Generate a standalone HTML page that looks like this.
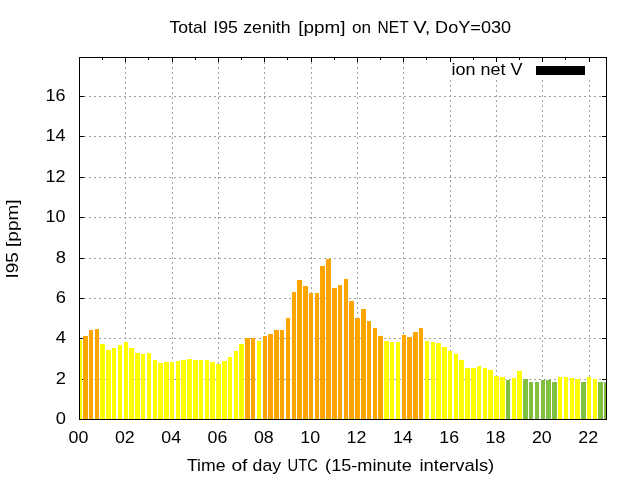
<!DOCTYPE html>
<html><head><meta charset="utf-8"><style>
html,body{margin:0;padding:0;background:#fff;width:640px;height:480px;overflow:hidden}
svg{display:block;will-change:transform}
text{font-family:"Liberation Sans",sans-serif;font-size:16px;fill:#000}
</style></head><body>
<svg width="640" height="480" viewBox="0 0 640 480">
<rect x="0" y="0" width="640" height="480" fill="#fff"/>
<g fill="#a0a0a0" shape-rendering="crispEdges">
<rect x="84" y="379" width="2" height="1"/>
<rect x="89" y="379" width="2" height="1"/>
<rect x="94" y="379" width="2" height="1"/>
<rect x="99" y="379" width="2" height="1"/>
<rect x="104" y="379" width="2" height="1"/>
<rect x="109" y="379" width="2" height="1"/>
<rect x="114" y="379" width="2" height="1"/>
<rect x="119" y="379" width="2" height="1"/>
<rect x="124" y="379" width="2" height="1"/>
<rect x="129" y="379" width="2" height="1"/>
<rect x="134" y="379" width="2" height="1"/>
<rect x="139" y="379" width="2" height="1"/>
<rect x="144" y="379" width="2" height="1"/>
<rect x="149" y="379" width="2" height="1"/>
<rect x="154" y="379" width="2" height="1"/>
<rect x="159" y="379" width="2" height="1"/>
<rect x="164" y="379" width="2" height="1"/>
<rect x="169" y="379" width="2" height="1"/>
<rect x="174" y="379" width="2" height="1"/>
<rect x="179" y="379" width="2" height="1"/>
<rect x="184" y="379" width="2" height="1"/>
<rect x="189" y="379" width="2" height="1"/>
<rect x="194" y="379" width="2" height="1"/>
<rect x="199" y="379" width="2" height="1"/>
<rect x="204" y="379" width="2" height="1"/>
<rect x="209" y="379" width="2" height="1"/>
<rect x="214" y="379" width="2" height="1"/>
<rect x="219" y="379" width="2" height="1"/>
<rect x="224" y="379" width="2" height="1"/>
<rect x="229" y="379" width="2" height="1"/>
<rect x="234" y="379" width="2" height="1"/>
<rect x="239" y="379" width="2" height="1"/>
<rect x="244" y="379" width="2" height="1"/>
<rect x="249" y="379" width="2" height="1"/>
<rect x="254" y="379" width="2" height="1"/>
<rect x="259" y="379" width="2" height="1"/>
<rect x="264" y="379" width="2" height="1"/>
<rect x="269" y="379" width="2" height="1"/>
<rect x="274" y="379" width="2" height="1"/>
<rect x="279" y="379" width="2" height="1"/>
<rect x="284" y="379" width="2" height="1"/>
<rect x="289" y="379" width="2" height="1"/>
<rect x="294" y="379" width="2" height="1"/>
<rect x="299" y="379" width="2" height="1"/>
<rect x="304" y="379" width="2" height="1"/>
<rect x="309" y="379" width="2" height="1"/>
<rect x="314" y="379" width="2" height="1"/>
<rect x="319" y="379" width="2" height="1"/>
<rect x="324" y="379" width="2" height="1"/>
<rect x="329" y="379" width="2" height="1"/>
<rect x="334" y="379" width="2" height="1"/>
<rect x="339" y="379" width="2" height="1"/>
<rect x="344" y="379" width="2" height="1"/>
<rect x="349" y="379" width="2" height="1"/>
<rect x="354" y="379" width="2" height="1"/>
<rect x="359" y="379" width="2" height="1"/>
<rect x="364" y="379" width="2" height="1"/>
<rect x="369" y="379" width="2" height="1"/>
<rect x="374" y="379" width="2" height="1"/>
<rect x="379" y="379" width="2" height="1"/>
<rect x="384" y="379" width="2" height="1"/>
<rect x="389" y="379" width="2" height="1"/>
<rect x="394" y="379" width="2" height="1"/>
<rect x="399" y="379" width="2" height="1"/>
<rect x="404" y="379" width="2" height="1"/>
<rect x="409" y="379" width="2" height="1"/>
<rect x="414" y="379" width="2" height="1"/>
<rect x="419" y="379" width="2" height="1"/>
<rect x="424" y="379" width="2" height="1"/>
<rect x="429" y="379" width="2" height="1"/>
<rect x="434" y="379" width="2" height="1"/>
<rect x="439" y="379" width="2" height="1"/>
<rect x="444" y="379" width="2" height="1"/>
<rect x="449" y="379" width="2" height="1"/>
<rect x="454" y="379" width="2" height="1"/>
<rect x="459" y="379" width="2" height="1"/>
<rect x="464" y="379" width="2" height="1"/>
<rect x="469" y="379" width="2" height="1"/>
<rect x="474" y="379" width="2" height="1"/>
<rect x="479" y="379" width="2" height="1"/>
<rect x="484" y="379" width="2" height="1"/>
<rect x="489" y="379" width="2" height="1"/>
<rect x="494" y="379" width="2" height="1"/>
<rect x="499" y="379" width="2" height="1"/>
<rect x="504" y="379" width="2" height="1"/>
<rect x="509" y="379" width="2" height="1"/>
<rect x="514" y="379" width="2" height="1"/>
<rect x="519" y="379" width="2" height="1"/>
<rect x="524" y="379" width="2" height="1"/>
<rect x="529" y="379" width="2" height="1"/>
<rect x="534" y="379" width="2" height="1"/>
<rect x="539" y="379" width="2" height="1"/>
<rect x="544" y="379" width="2" height="1"/>
<rect x="549" y="379" width="2" height="1"/>
<rect x="554" y="379" width="2" height="1"/>
<rect x="559" y="379" width="2" height="1"/>
<rect x="564" y="379" width="2" height="1"/>
<rect x="569" y="379" width="2" height="1"/>
<rect x="574" y="379" width="2" height="1"/>
<rect x="579" y="379" width="2" height="1"/>
<rect x="584" y="379" width="2" height="1"/>
<rect x="589" y="379" width="2" height="1"/>
<rect x="594" y="379" width="2" height="1"/>
<rect x="599" y="379" width="2" height="1"/>
<rect x="84" y="338" width="2" height="1"/>
<rect x="89" y="338" width="2" height="1"/>
<rect x="94" y="338" width="2" height="1"/>
<rect x="99" y="338" width="2" height="1"/>
<rect x="104" y="338" width="2" height="1"/>
<rect x="109" y="338" width="2" height="1"/>
<rect x="114" y="338" width="2" height="1"/>
<rect x="119" y="338" width="2" height="1"/>
<rect x="124" y="338" width="2" height="1"/>
<rect x="129" y="338" width="2" height="1"/>
<rect x="134" y="338" width="2" height="1"/>
<rect x="139" y="338" width="2" height="1"/>
<rect x="144" y="338" width="2" height="1"/>
<rect x="149" y="338" width="2" height="1"/>
<rect x="154" y="338" width="2" height="1"/>
<rect x="159" y="338" width="2" height="1"/>
<rect x="164" y="338" width="2" height="1"/>
<rect x="169" y="338" width="2" height="1"/>
<rect x="174" y="338" width="2" height="1"/>
<rect x="179" y="338" width="2" height="1"/>
<rect x="184" y="338" width="2" height="1"/>
<rect x="189" y="338" width="2" height="1"/>
<rect x="194" y="338" width="2" height="1"/>
<rect x="199" y="338" width="2" height="1"/>
<rect x="204" y="338" width="2" height="1"/>
<rect x="209" y="338" width="2" height="1"/>
<rect x="214" y="338" width="2" height="1"/>
<rect x="219" y="338" width="2" height="1"/>
<rect x="224" y="338" width="2" height="1"/>
<rect x="229" y="338" width="2" height="1"/>
<rect x="234" y="338" width="2" height="1"/>
<rect x="239" y="338" width="2" height="1"/>
<rect x="244" y="338" width="2" height="1"/>
<rect x="249" y="338" width="2" height="1"/>
<rect x="254" y="338" width="2" height="1"/>
<rect x="259" y="338" width="2" height="1"/>
<rect x="264" y="338" width="2" height="1"/>
<rect x="269" y="338" width="2" height="1"/>
<rect x="274" y="338" width="2" height="1"/>
<rect x="279" y="338" width="2" height="1"/>
<rect x="284" y="338" width="2" height="1"/>
<rect x="289" y="338" width="2" height="1"/>
<rect x="294" y="338" width="2" height="1"/>
<rect x="299" y="338" width="2" height="1"/>
<rect x="304" y="338" width="2" height="1"/>
<rect x="309" y="338" width="2" height="1"/>
<rect x="314" y="338" width="2" height="1"/>
<rect x="319" y="338" width="2" height="1"/>
<rect x="324" y="338" width="2" height="1"/>
<rect x="329" y="338" width="2" height="1"/>
<rect x="334" y="338" width="2" height="1"/>
<rect x="339" y="338" width="2" height="1"/>
<rect x="344" y="338" width="2" height="1"/>
<rect x="349" y="338" width="2" height="1"/>
<rect x="354" y="338" width="2" height="1"/>
<rect x="359" y="338" width="2" height="1"/>
<rect x="364" y="338" width="2" height="1"/>
<rect x="369" y="338" width="2" height="1"/>
<rect x="374" y="338" width="2" height="1"/>
<rect x="379" y="338" width="2" height="1"/>
<rect x="384" y="338" width="2" height="1"/>
<rect x="389" y="338" width="2" height="1"/>
<rect x="394" y="338" width="2" height="1"/>
<rect x="399" y="338" width="2" height="1"/>
<rect x="404" y="338" width="2" height="1"/>
<rect x="409" y="338" width="2" height="1"/>
<rect x="414" y="338" width="2" height="1"/>
<rect x="419" y="338" width="2" height="1"/>
<rect x="424" y="338" width="2" height="1"/>
<rect x="429" y="338" width="2" height="1"/>
<rect x="434" y="338" width="2" height="1"/>
<rect x="439" y="338" width="2" height="1"/>
<rect x="444" y="338" width="2" height="1"/>
<rect x="449" y="338" width="2" height="1"/>
<rect x="454" y="338" width="2" height="1"/>
<rect x="459" y="338" width="2" height="1"/>
<rect x="464" y="338" width="2" height="1"/>
<rect x="469" y="338" width="2" height="1"/>
<rect x="474" y="338" width="2" height="1"/>
<rect x="479" y="338" width="2" height="1"/>
<rect x="484" y="338" width="2" height="1"/>
<rect x="489" y="338" width="2" height="1"/>
<rect x="494" y="338" width="2" height="1"/>
<rect x="499" y="338" width="2" height="1"/>
<rect x="504" y="338" width="2" height="1"/>
<rect x="509" y="338" width="2" height="1"/>
<rect x="514" y="338" width="2" height="1"/>
<rect x="519" y="338" width="2" height="1"/>
<rect x="524" y="338" width="2" height="1"/>
<rect x="529" y="338" width="2" height="1"/>
<rect x="534" y="338" width="2" height="1"/>
<rect x="539" y="338" width="2" height="1"/>
<rect x="544" y="338" width="2" height="1"/>
<rect x="549" y="338" width="2" height="1"/>
<rect x="554" y="338" width="2" height="1"/>
<rect x="559" y="338" width="2" height="1"/>
<rect x="564" y="338" width="2" height="1"/>
<rect x="569" y="338" width="2" height="1"/>
<rect x="574" y="338" width="2" height="1"/>
<rect x="579" y="338" width="2" height="1"/>
<rect x="584" y="338" width="2" height="1"/>
<rect x="589" y="338" width="2" height="1"/>
<rect x="594" y="338" width="2" height="1"/>
<rect x="599" y="338" width="2" height="1"/>
<rect x="84" y="298" width="2" height="1"/>
<rect x="89" y="298" width="2" height="1"/>
<rect x="94" y="298" width="2" height="1"/>
<rect x="99" y="298" width="2" height="1"/>
<rect x="104" y="298" width="2" height="1"/>
<rect x="109" y="298" width="2" height="1"/>
<rect x="114" y="298" width="2" height="1"/>
<rect x="119" y="298" width="2" height="1"/>
<rect x="124" y="298" width="2" height="1"/>
<rect x="129" y="298" width="2" height="1"/>
<rect x="134" y="298" width="2" height="1"/>
<rect x="139" y="298" width="2" height="1"/>
<rect x="144" y="298" width="2" height="1"/>
<rect x="149" y="298" width="2" height="1"/>
<rect x="154" y="298" width="2" height="1"/>
<rect x="159" y="298" width="2" height="1"/>
<rect x="164" y="298" width="2" height="1"/>
<rect x="169" y="298" width="2" height="1"/>
<rect x="174" y="298" width="2" height="1"/>
<rect x="179" y="298" width="2" height="1"/>
<rect x="184" y="298" width="2" height="1"/>
<rect x="189" y="298" width="2" height="1"/>
<rect x="194" y="298" width="2" height="1"/>
<rect x="199" y="298" width="2" height="1"/>
<rect x="204" y="298" width="2" height="1"/>
<rect x="209" y="298" width="2" height="1"/>
<rect x="214" y="298" width="2" height="1"/>
<rect x="219" y="298" width="2" height="1"/>
<rect x="224" y="298" width="2" height="1"/>
<rect x="229" y="298" width="2" height="1"/>
<rect x="234" y="298" width="2" height="1"/>
<rect x="239" y="298" width="2" height="1"/>
<rect x="244" y="298" width="2" height="1"/>
<rect x="249" y="298" width="2" height="1"/>
<rect x="254" y="298" width="2" height="1"/>
<rect x="259" y="298" width="2" height="1"/>
<rect x="264" y="298" width="2" height="1"/>
<rect x="269" y="298" width="2" height="1"/>
<rect x="274" y="298" width="2" height="1"/>
<rect x="279" y="298" width="2" height="1"/>
<rect x="284" y="298" width="2" height="1"/>
<rect x="289" y="298" width="2" height="1"/>
<rect x="294" y="298" width="2" height="1"/>
<rect x="299" y="298" width="2" height="1"/>
<rect x="304" y="298" width="2" height="1"/>
<rect x="309" y="298" width="2" height="1"/>
<rect x="314" y="298" width="2" height="1"/>
<rect x="319" y="298" width="2" height="1"/>
<rect x="324" y="298" width="2" height="1"/>
<rect x="329" y="298" width="2" height="1"/>
<rect x="334" y="298" width="2" height="1"/>
<rect x="339" y="298" width="2" height="1"/>
<rect x="344" y="298" width="2" height="1"/>
<rect x="349" y="298" width="2" height="1"/>
<rect x="354" y="298" width="2" height="1"/>
<rect x="359" y="298" width="2" height="1"/>
<rect x="364" y="298" width="2" height="1"/>
<rect x="369" y="298" width="2" height="1"/>
<rect x="374" y="298" width="2" height="1"/>
<rect x="379" y="298" width="2" height="1"/>
<rect x="384" y="298" width="2" height="1"/>
<rect x="389" y="298" width="2" height="1"/>
<rect x="394" y="298" width="2" height="1"/>
<rect x="399" y="298" width="2" height="1"/>
<rect x="404" y="298" width="2" height="1"/>
<rect x="409" y="298" width="2" height="1"/>
<rect x="414" y="298" width="2" height="1"/>
<rect x="419" y="298" width="2" height="1"/>
<rect x="424" y="298" width="2" height="1"/>
<rect x="429" y="298" width="2" height="1"/>
<rect x="434" y="298" width="2" height="1"/>
<rect x="439" y="298" width="2" height="1"/>
<rect x="444" y="298" width="2" height="1"/>
<rect x="449" y="298" width="2" height="1"/>
<rect x="454" y="298" width="2" height="1"/>
<rect x="459" y="298" width="2" height="1"/>
<rect x="464" y="298" width="2" height="1"/>
<rect x="469" y="298" width="2" height="1"/>
<rect x="474" y="298" width="2" height="1"/>
<rect x="479" y="298" width="2" height="1"/>
<rect x="484" y="298" width="2" height="1"/>
<rect x="489" y="298" width="2" height="1"/>
<rect x="494" y="298" width="2" height="1"/>
<rect x="499" y="298" width="2" height="1"/>
<rect x="504" y="298" width="2" height="1"/>
<rect x="509" y="298" width="2" height="1"/>
<rect x="514" y="298" width="2" height="1"/>
<rect x="519" y="298" width="2" height="1"/>
<rect x="524" y="298" width="2" height="1"/>
<rect x="529" y="298" width="2" height="1"/>
<rect x="534" y="298" width="2" height="1"/>
<rect x="539" y="298" width="2" height="1"/>
<rect x="544" y="298" width="2" height="1"/>
<rect x="549" y="298" width="2" height="1"/>
<rect x="554" y="298" width="2" height="1"/>
<rect x="559" y="298" width="2" height="1"/>
<rect x="564" y="298" width="2" height="1"/>
<rect x="569" y="298" width="2" height="1"/>
<rect x="574" y="298" width="2" height="1"/>
<rect x="579" y="298" width="2" height="1"/>
<rect x="584" y="298" width="2" height="1"/>
<rect x="589" y="298" width="2" height="1"/>
<rect x="594" y="298" width="2" height="1"/>
<rect x="599" y="298" width="2" height="1"/>
<rect x="84" y="258" width="2" height="1"/>
<rect x="89" y="258" width="2" height="1"/>
<rect x="94" y="258" width="2" height="1"/>
<rect x="99" y="258" width="2" height="1"/>
<rect x="104" y="258" width="2" height="1"/>
<rect x="109" y="258" width="2" height="1"/>
<rect x="114" y="258" width="2" height="1"/>
<rect x="119" y="258" width="2" height="1"/>
<rect x="124" y="258" width="2" height="1"/>
<rect x="129" y="258" width="2" height="1"/>
<rect x="134" y="258" width="2" height="1"/>
<rect x="139" y="258" width="2" height="1"/>
<rect x="144" y="258" width="2" height="1"/>
<rect x="149" y="258" width="2" height="1"/>
<rect x="154" y="258" width="2" height="1"/>
<rect x="159" y="258" width="2" height="1"/>
<rect x="164" y="258" width="2" height="1"/>
<rect x="169" y="258" width="2" height="1"/>
<rect x="174" y="258" width="2" height="1"/>
<rect x="179" y="258" width="2" height="1"/>
<rect x="184" y="258" width="2" height="1"/>
<rect x="189" y="258" width="2" height="1"/>
<rect x="194" y="258" width="2" height="1"/>
<rect x="199" y="258" width="2" height="1"/>
<rect x="204" y="258" width="2" height="1"/>
<rect x="209" y="258" width="2" height="1"/>
<rect x="214" y="258" width="2" height="1"/>
<rect x="219" y="258" width="2" height="1"/>
<rect x="224" y="258" width="2" height="1"/>
<rect x="229" y="258" width="2" height="1"/>
<rect x="234" y="258" width="2" height="1"/>
<rect x="239" y="258" width="2" height="1"/>
<rect x="244" y="258" width="2" height="1"/>
<rect x="249" y="258" width="2" height="1"/>
<rect x="254" y="258" width="2" height="1"/>
<rect x="259" y="258" width="2" height="1"/>
<rect x="264" y="258" width="2" height="1"/>
<rect x="269" y="258" width="2" height="1"/>
<rect x="274" y="258" width="2" height="1"/>
<rect x="279" y="258" width="2" height="1"/>
<rect x="284" y="258" width="2" height="1"/>
<rect x="289" y="258" width="2" height="1"/>
<rect x="294" y="258" width="2" height="1"/>
<rect x="299" y="258" width="2" height="1"/>
<rect x="304" y="258" width="2" height="1"/>
<rect x="309" y="258" width="2" height="1"/>
<rect x="314" y="258" width="2" height="1"/>
<rect x="319" y="258" width="2" height="1"/>
<rect x="324" y="258" width="2" height="1"/>
<rect x="329" y="258" width="2" height="1"/>
<rect x="334" y="258" width="2" height="1"/>
<rect x="339" y="258" width="2" height="1"/>
<rect x="344" y="258" width="2" height="1"/>
<rect x="349" y="258" width="2" height="1"/>
<rect x="354" y="258" width="2" height="1"/>
<rect x="359" y="258" width="2" height="1"/>
<rect x="364" y="258" width="2" height="1"/>
<rect x="369" y="258" width="2" height="1"/>
<rect x="374" y="258" width="2" height="1"/>
<rect x="379" y="258" width="2" height="1"/>
<rect x="384" y="258" width="2" height="1"/>
<rect x="389" y="258" width="2" height="1"/>
<rect x="394" y="258" width="2" height="1"/>
<rect x="399" y="258" width="2" height="1"/>
<rect x="404" y="258" width="2" height="1"/>
<rect x="409" y="258" width="2" height="1"/>
<rect x="414" y="258" width="2" height="1"/>
<rect x="419" y="258" width="2" height="1"/>
<rect x="424" y="258" width="2" height="1"/>
<rect x="429" y="258" width="2" height="1"/>
<rect x="434" y="258" width="2" height="1"/>
<rect x="439" y="258" width="2" height="1"/>
<rect x="444" y="258" width="2" height="1"/>
<rect x="449" y="258" width="2" height="1"/>
<rect x="454" y="258" width="2" height="1"/>
<rect x="459" y="258" width="2" height="1"/>
<rect x="464" y="258" width="2" height="1"/>
<rect x="469" y="258" width="2" height="1"/>
<rect x="474" y="258" width="2" height="1"/>
<rect x="479" y="258" width="2" height="1"/>
<rect x="484" y="258" width="2" height="1"/>
<rect x="489" y="258" width="2" height="1"/>
<rect x="494" y="258" width="2" height="1"/>
<rect x="499" y="258" width="2" height="1"/>
<rect x="504" y="258" width="2" height="1"/>
<rect x="509" y="258" width="2" height="1"/>
<rect x="514" y="258" width="2" height="1"/>
<rect x="519" y="258" width="2" height="1"/>
<rect x="524" y="258" width="2" height="1"/>
<rect x="529" y="258" width="2" height="1"/>
<rect x="534" y="258" width="2" height="1"/>
<rect x="539" y="258" width="2" height="1"/>
<rect x="544" y="258" width="2" height="1"/>
<rect x="549" y="258" width="2" height="1"/>
<rect x="554" y="258" width="2" height="1"/>
<rect x="559" y="258" width="2" height="1"/>
<rect x="564" y="258" width="2" height="1"/>
<rect x="569" y="258" width="2" height="1"/>
<rect x="574" y="258" width="2" height="1"/>
<rect x="579" y="258" width="2" height="1"/>
<rect x="584" y="258" width="2" height="1"/>
<rect x="589" y="258" width="2" height="1"/>
<rect x="594" y="258" width="2" height="1"/>
<rect x="599" y="258" width="2" height="1"/>
<rect x="84" y="217" width="2" height="1"/>
<rect x="89" y="217" width="2" height="1"/>
<rect x="94" y="217" width="2" height="1"/>
<rect x="99" y="217" width="2" height="1"/>
<rect x="104" y="217" width="2" height="1"/>
<rect x="109" y="217" width="2" height="1"/>
<rect x="114" y="217" width="2" height="1"/>
<rect x="119" y="217" width="2" height="1"/>
<rect x="124" y="217" width="2" height="1"/>
<rect x="129" y="217" width="2" height="1"/>
<rect x="134" y="217" width="2" height="1"/>
<rect x="139" y="217" width="2" height="1"/>
<rect x="144" y="217" width="2" height="1"/>
<rect x="149" y="217" width="2" height="1"/>
<rect x="154" y="217" width="2" height="1"/>
<rect x="159" y="217" width="2" height="1"/>
<rect x="164" y="217" width="2" height="1"/>
<rect x="169" y="217" width="2" height="1"/>
<rect x="174" y="217" width="2" height="1"/>
<rect x="179" y="217" width="2" height="1"/>
<rect x="184" y="217" width="2" height="1"/>
<rect x="189" y="217" width="2" height="1"/>
<rect x="194" y="217" width="2" height="1"/>
<rect x="199" y="217" width="2" height="1"/>
<rect x="204" y="217" width="2" height="1"/>
<rect x="209" y="217" width="2" height="1"/>
<rect x="214" y="217" width="2" height="1"/>
<rect x="219" y="217" width="2" height="1"/>
<rect x="224" y="217" width="2" height="1"/>
<rect x="229" y="217" width="2" height="1"/>
<rect x="234" y="217" width="2" height="1"/>
<rect x="239" y="217" width="2" height="1"/>
<rect x="244" y="217" width="2" height="1"/>
<rect x="249" y="217" width="2" height="1"/>
<rect x="254" y="217" width="2" height="1"/>
<rect x="259" y="217" width="2" height="1"/>
<rect x="264" y="217" width="2" height="1"/>
<rect x="269" y="217" width="2" height="1"/>
<rect x="274" y="217" width="2" height="1"/>
<rect x="279" y="217" width="2" height="1"/>
<rect x="284" y="217" width="2" height="1"/>
<rect x="289" y="217" width="2" height="1"/>
<rect x="294" y="217" width="2" height="1"/>
<rect x="299" y="217" width="2" height="1"/>
<rect x="304" y="217" width="2" height="1"/>
<rect x="309" y="217" width="2" height="1"/>
<rect x="314" y="217" width="2" height="1"/>
<rect x="319" y="217" width="2" height="1"/>
<rect x="324" y="217" width="2" height="1"/>
<rect x="329" y="217" width="2" height="1"/>
<rect x="334" y="217" width="2" height="1"/>
<rect x="339" y="217" width="2" height="1"/>
<rect x="344" y="217" width="2" height="1"/>
<rect x="349" y="217" width="2" height="1"/>
<rect x="354" y="217" width="2" height="1"/>
<rect x="359" y="217" width="2" height="1"/>
<rect x="364" y="217" width="2" height="1"/>
<rect x="369" y="217" width="2" height="1"/>
<rect x="374" y="217" width="2" height="1"/>
<rect x="379" y="217" width="2" height="1"/>
<rect x="384" y="217" width="2" height="1"/>
<rect x="389" y="217" width="2" height="1"/>
<rect x="394" y="217" width="2" height="1"/>
<rect x="399" y="217" width="2" height="1"/>
<rect x="404" y="217" width="2" height="1"/>
<rect x="409" y="217" width="2" height="1"/>
<rect x="414" y="217" width="2" height="1"/>
<rect x="419" y="217" width="2" height="1"/>
<rect x="424" y="217" width="2" height="1"/>
<rect x="429" y="217" width="2" height="1"/>
<rect x="434" y="217" width="2" height="1"/>
<rect x="439" y="217" width="2" height="1"/>
<rect x="444" y="217" width="2" height="1"/>
<rect x="449" y="217" width="2" height="1"/>
<rect x="454" y="217" width="2" height="1"/>
<rect x="459" y="217" width="2" height="1"/>
<rect x="464" y="217" width="2" height="1"/>
<rect x="469" y="217" width="2" height="1"/>
<rect x="474" y="217" width="2" height="1"/>
<rect x="479" y="217" width="2" height="1"/>
<rect x="484" y="217" width="2" height="1"/>
<rect x="489" y="217" width="2" height="1"/>
<rect x="494" y="217" width="2" height="1"/>
<rect x="499" y="217" width="2" height="1"/>
<rect x="504" y="217" width="2" height="1"/>
<rect x="509" y="217" width="2" height="1"/>
<rect x="514" y="217" width="2" height="1"/>
<rect x="519" y="217" width="2" height="1"/>
<rect x="524" y="217" width="2" height="1"/>
<rect x="529" y="217" width="2" height="1"/>
<rect x="534" y="217" width="2" height="1"/>
<rect x="539" y="217" width="2" height="1"/>
<rect x="544" y="217" width="2" height="1"/>
<rect x="549" y="217" width="2" height="1"/>
<rect x="554" y="217" width="2" height="1"/>
<rect x="559" y="217" width="2" height="1"/>
<rect x="564" y="217" width="2" height="1"/>
<rect x="569" y="217" width="2" height="1"/>
<rect x="574" y="217" width="2" height="1"/>
<rect x="579" y="217" width="2" height="1"/>
<rect x="584" y="217" width="2" height="1"/>
<rect x="589" y="217" width="2" height="1"/>
<rect x="594" y="217" width="2" height="1"/>
<rect x="599" y="217" width="2" height="1"/>
<rect x="84" y="177" width="2" height="1"/>
<rect x="89" y="177" width="2" height="1"/>
<rect x="94" y="177" width="2" height="1"/>
<rect x="99" y="177" width="2" height="1"/>
<rect x="104" y="177" width="2" height="1"/>
<rect x="109" y="177" width="2" height="1"/>
<rect x="114" y="177" width="2" height="1"/>
<rect x="119" y="177" width="2" height="1"/>
<rect x="124" y="177" width="2" height="1"/>
<rect x="129" y="177" width="2" height="1"/>
<rect x="134" y="177" width="2" height="1"/>
<rect x="139" y="177" width="2" height="1"/>
<rect x="144" y="177" width="2" height="1"/>
<rect x="149" y="177" width="2" height="1"/>
<rect x="154" y="177" width="2" height="1"/>
<rect x="159" y="177" width="2" height="1"/>
<rect x="164" y="177" width="2" height="1"/>
<rect x="169" y="177" width="2" height="1"/>
<rect x="174" y="177" width="2" height="1"/>
<rect x="179" y="177" width="2" height="1"/>
<rect x="184" y="177" width="2" height="1"/>
<rect x="189" y="177" width="2" height="1"/>
<rect x="194" y="177" width="2" height="1"/>
<rect x="199" y="177" width="2" height="1"/>
<rect x="204" y="177" width="2" height="1"/>
<rect x="209" y="177" width="2" height="1"/>
<rect x="214" y="177" width="2" height="1"/>
<rect x="219" y="177" width="2" height="1"/>
<rect x="224" y="177" width="2" height="1"/>
<rect x="229" y="177" width="2" height="1"/>
<rect x="234" y="177" width="2" height="1"/>
<rect x="239" y="177" width="2" height="1"/>
<rect x="244" y="177" width="2" height="1"/>
<rect x="249" y="177" width="2" height="1"/>
<rect x="254" y="177" width="2" height="1"/>
<rect x="259" y="177" width="2" height="1"/>
<rect x="264" y="177" width="2" height="1"/>
<rect x="269" y="177" width="2" height="1"/>
<rect x="274" y="177" width="2" height="1"/>
<rect x="279" y="177" width="2" height="1"/>
<rect x="284" y="177" width="2" height="1"/>
<rect x="289" y="177" width="2" height="1"/>
<rect x="294" y="177" width="2" height="1"/>
<rect x="299" y="177" width="2" height="1"/>
<rect x="304" y="177" width="2" height="1"/>
<rect x="309" y="177" width="2" height="1"/>
<rect x="314" y="177" width="2" height="1"/>
<rect x="319" y="177" width="2" height="1"/>
<rect x="324" y="177" width="2" height="1"/>
<rect x="329" y="177" width="2" height="1"/>
<rect x="334" y="177" width="2" height="1"/>
<rect x="339" y="177" width="2" height="1"/>
<rect x="344" y="177" width="2" height="1"/>
<rect x="349" y="177" width="2" height="1"/>
<rect x="354" y="177" width="2" height="1"/>
<rect x="359" y="177" width="2" height="1"/>
<rect x="364" y="177" width="2" height="1"/>
<rect x="369" y="177" width="2" height="1"/>
<rect x="374" y="177" width="2" height="1"/>
<rect x="379" y="177" width="2" height="1"/>
<rect x="384" y="177" width="2" height="1"/>
<rect x="389" y="177" width="2" height="1"/>
<rect x="394" y="177" width="2" height="1"/>
<rect x="399" y="177" width="2" height="1"/>
<rect x="404" y="177" width="2" height="1"/>
<rect x="409" y="177" width="2" height="1"/>
<rect x="414" y="177" width="2" height="1"/>
<rect x="419" y="177" width="2" height="1"/>
<rect x="424" y="177" width="2" height="1"/>
<rect x="429" y="177" width="2" height="1"/>
<rect x="434" y="177" width="2" height="1"/>
<rect x="439" y="177" width="2" height="1"/>
<rect x="444" y="177" width="2" height="1"/>
<rect x="449" y="177" width="2" height="1"/>
<rect x="454" y="177" width="2" height="1"/>
<rect x="459" y="177" width="2" height="1"/>
<rect x="464" y="177" width="2" height="1"/>
<rect x="469" y="177" width="2" height="1"/>
<rect x="474" y="177" width="2" height="1"/>
<rect x="479" y="177" width="2" height="1"/>
<rect x="484" y="177" width="2" height="1"/>
<rect x="489" y="177" width="2" height="1"/>
<rect x="494" y="177" width="2" height="1"/>
<rect x="499" y="177" width="2" height="1"/>
<rect x="504" y="177" width="2" height="1"/>
<rect x="509" y="177" width="2" height="1"/>
<rect x="514" y="177" width="2" height="1"/>
<rect x="519" y="177" width="2" height="1"/>
<rect x="524" y="177" width="2" height="1"/>
<rect x="529" y="177" width="2" height="1"/>
<rect x="534" y="177" width="2" height="1"/>
<rect x="539" y="177" width="2" height="1"/>
<rect x="544" y="177" width="2" height="1"/>
<rect x="549" y="177" width="2" height="1"/>
<rect x="554" y="177" width="2" height="1"/>
<rect x="559" y="177" width="2" height="1"/>
<rect x="564" y="177" width="2" height="1"/>
<rect x="569" y="177" width="2" height="1"/>
<rect x="574" y="177" width="2" height="1"/>
<rect x="579" y="177" width="2" height="1"/>
<rect x="584" y="177" width="2" height="1"/>
<rect x="589" y="177" width="2" height="1"/>
<rect x="594" y="177" width="2" height="1"/>
<rect x="599" y="177" width="2" height="1"/>
<rect x="84" y="136" width="2" height="1"/>
<rect x="89" y="136" width="2" height="1"/>
<rect x="94" y="136" width="2" height="1"/>
<rect x="99" y="136" width="2" height="1"/>
<rect x="104" y="136" width="2" height="1"/>
<rect x="109" y="136" width="2" height="1"/>
<rect x="114" y="136" width="2" height="1"/>
<rect x="119" y="136" width="2" height="1"/>
<rect x="124" y="136" width="2" height="1"/>
<rect x="129" y="136" width="2" height="1"/>
<rect x="134" y="136" width="2" height="1"/>
<rect x="139" y="136" width="2" height="1"/>
<rect x="144" y="136" width="2" height="1"/>
<rect x="149" y="136" width="2" height="1"/>
<rect x="154" y="136" width="2" height="1"/>
<rect x="159" y="136" width="2" height="1"/>
<rect x="164" y="136" width="2" height="1"/>
<rect x="169" y="136" width="2" height="1"/>
<rect x="174" y="136" width="2" height="1"/>
<rect x="179" y="136" width="2" height="1"/>
<rect x="184" y="136" width="2" height="1"/>
<rect x="189" y="136" width="2" height="1"/>
<rect x="194" y="136" width="2" height="1"/>
<rect x="199" y="136" width="2" height="1"/>
<rect x="204" y="136" width="2" height="1"/>
<rect x="209" y="136" width="2" height="1"/>
<rect x="214" y="136" width="2" height="1"/>
<rect x="219" y="136" width="2" height="1"/>
<rect x="224" y="136" width="2" height="1"/>
<rect x="229" y="136" width="2" height="1"/>
<rect x="234" y="136" width="2" height="1"/>
<rect x="239" y="136" width="2" height="1"/>
<rect x="244" y="136" width="2" height="1"/>
<rect x="249" y="136" width="2" height="1"/>
<rect x="254" y="136" width="2" height="1"/>
<rect x="259" y="136" width="2" height="1"/>
<rect x="264" y="136" width="2" height="1"/>
<rect x="269" y="136" width="2" height="1"/>
<rect x="274" y="136" width="2" height="1"/>
<rect x="279" y="136" width="2" height="1"/>
<rect x="284" y="136" width="2" height="1"/>
<rect x="289" y="136" width="2" height="1"/>
<rect x="294" y="136" width="2" height="1"/>
<rect x="299" y="136" width="2" height="1"/>
<rect x="304" y="136" width="2" height="1"/>
<rect x="309" y="136" width="2" height="1"/>
<rect x="314" y="136" width="2" height="1"/>
<rect x="319" y="136" width="2" height="1"/>
<rect x="324" y="136" width="2" height="1"/>
<rect x="329" y="136" width="2" height="1"/>
<rect x="334" y="136" width="2" height="1"/>
<rect x="339" y="136" width="2" height="1"/>
<rect x="344" y="136" width="2" height="1"/>
<rect x="349" y="136" width="2" height="1"/>
<rect x="354" y="136" width="2" height="1"/>
<rect x="359" y="136" width="2" height="1"/>
<rect x="364" y="136" width="2" height="1"/>
<rect x="369" y="136" width="2" height="1"/>
<rect x="374" y="136" width="2" height="1"/>
<rect x="379" y="136" width="2" height="1"/>
<rect x="384" y="136" width="2" height="1"/>
<rect x="389" y="136" width="2" height="1"/>
<rect x="394" y="136" width="2" height="1"/>
<rect x="399" y="136" width="2" height="1"/>
<rect x="404" y="136" width="2" height="1"/>
<rect x="409" y="136" width="2" height="1"/>
<rect x="414" y="136" width="2" height="1"/>
<rect x="419" y="136" width="2" height="1"/>
<rect x="424" y="136" width="2" height="1"/>
<rect x="429" y="136" width="2" height="1"/>
<rect x="434" y="136" width="2" height="1"/>
<rect x="439" y="136" width="2" height="1"/>
<rect x="444" y="136" width="2" height="1"/>
<rect x="449" y="136" width="2" height="1"/>
<rect x="454" y="136" width="2" height="1"/>
<rect x="459" y="136" width="2" height="1"/>
<rect x="464" y="136" width="2" height="1"/>
<rect x="469" y="136" width="2" height="1"/>
<rect x="474" y="136" width="2" height="1"/>
<rect x="479" y="136" width="2" height="1"/>
<rect x="484" y="136" width="2" height="1"/>
<rect x="489" y="136" width="2" height="1"/>
<rect x="494" y="136" width="2" height="1"/>
<rect x="499" y="136" width="2" height="1"/>
<rect x="504" y="136" width="2" height="1"/>
<rect x="509" y="136" width="2" height="1"/>
<rect x="514" y="136" width="2" height="1"/>
<rect x="519" y="136" width="2" height="1"/>
<rect x="524" y="136" width="2" height="1"/>
<rect x="529" y="136" width="2" height="1"/>
<rect x="534" y="136" width="2" height="1"/>
<rect x="539" y="136" width="2" height="1"/>
<rect x="544" y="136" width="2" height="1"/>
<rect x="549" y="136" width="2" height="1"/>
<rect x="554" y="136" width="2" height="1"/>
<rect x="559" y="136" width="2" height="1"/>
<rect x="564" y="136" width="2" height="1"/>
<rect x="569" y="136" width="2" height="1"/>
<rect x="574" y="136" width="2" height="1"/>
<rect x="579" y="136" width="2" height="1"/>
<rect x="584" y="136" width="2" height="1"/>
<rect x="589" y="136" width="2" height="1"/>
<rect x="594" y="136" width="2" height="1"/>
<rect x="599" y="136" width="2" height="1"/>
<rect x="84" y="96" width="2" height="1"/>
<rect x="89" y="96" width="2" height="1"/>
<rect x="94" y="96" width="2" height="1"/>
<rect x="99" y="96" width="2" height="1"/>
<rect x="104" y="96" width="2" height="1"/>
<rect x="109" y="96" width="2" height="1"/>
<rect x="114" y="96" width="2" height="1"/>
<rect x="119" y="96" width="2" height="1"/>
<rect x="124" y="96" width="2" height="1"/>
<rect x="129" y="96" width="2" height="1"/>
<rect x="134" y="96" width="2" height="1"/>
<rect x="139" y="96" width="2" height="1"/>
<rect x="144" y="96" width="2" height="1"/>
<rect x="149" y="96" width="2" height="1"/>
<rect x="154" y="96" width="2" height="1"/>
<rect x="159" y="96" width="2" height="1"/>
<rect x="164" y="96" width="2" height="1"/>
<rect x="169" y="96" width="2" height="1"/>
<rect x="174" y="96" width="2" height="1"/>
<rect x="179" y="96" width="2" height="1"/>
<rect x="184" y="96" width="2" height="1"/>
<rect x="189" y="96" width="2" height="1"/>
<rect x="194" y="96" width="2" height="1"/>
<rect x="199" y="96" width="2" height="1"/>
<rect x="204" y="96" width="2" height="1"/>
<rect x="209" y="96" width="2" height="1"/>
<rect x="214" y="96" width="2" height="1"/>
<rect x="219" y="96" width="2" height="1"/>
<rect x="224" y="96" width="2" height="1"/>
<rect x="229" y="96" width="2" height="1"/>
<rect x="234" y="96" width="2" height="1"/>
<rect x="239" y="96" width="2" height="1"/>
<rect x="244" y="96" width="2" height="1"/>
<rect x="249" y="96" width="2" height="1"/>
<rect x="254" y="96" width="2" height="1"/>
<rect x="259" y="96" width="2" height="1"/>
<rect x="264" y="96" width="2" height="1"/>
<rect x="269" y="96" width="2" height="1"/>
<rect x="274" y="96" width="2" height="1"/>
<rect x="279" y="96" width="2" height="1"/>
<rect x="284" y="96" width="2" height="1"/>
<rect x="289" y="96" width="2" height="1"/>
<rect x="294" y="96" width="2" height="1"/>
<rect x="299" y="96" width="2" height="1"/>
<rect x="304" y="96" width="2" height="1"/>
<rect x="309" y="96" width="2" height="1"/>
<rect x="314" y="96" width="2" height="1"/>
<rect x="319" y="96" width="2" height="1"/>
<rect x="324" y="96" width="2" height="1"/>
<rect x="329" y="96" width="2" height="1"/>
<rect x="334" y="96" width="2" height="1"/>
<rect x="339" y="96" width="2" height="1"/>
<rect x="344" y="96" width="2" height="1"/>
<rect x="349" y="96" width="2" height="1"/>
<rect x="354" y="96" width="2" height="1"/>
<rect x="359" y="96" width="2" height="1"/>
<rect x="364" y="96" width="2" height="1"/>
<rect x="369" y="96" width="2" height="1"/>
<rect x="374" y="96" width="2" height="1"/>
<rect x="379" y="96" width="2" height="1"/>
<rect x="384" y="96" width="2" height="1"/>
<rect x="389" y="96" width="2" height="1"/>
<rect x="394" y="96" width="2" height="1"/>
<rect x="399" y="96" width="2" height="1"/>
<rect x="404" y="96" width="2" height="1"/>
<rect x="409" y="96" width="2" height="1"/>
<rect x="414" y="96" width="2" height="1"/>
<rect x="419" y="96" width="2" height="1"/>
<rect x="424" y="96" width="2" height="1"/>
<rect x="429" y="96" width="2" height="1"/>
<rect x="434" y="96" width="2" height="1"/>
<rect x="439" y="96" width="2" height="1"/>
<rect x="444" y="96" width="2" height="1"/>
<rect x="449" y="96" width="2" height="1"/>
<rect x="454" y="96" width="2" height="1"/>
<rect x="459" y="96" width="2" height="1"/>
<rect x="464" y="96" width="2" height="1"/>
<rect x="469" y="96" width="2" height="1"/>
<rect x="474" y="96" width="2" height="1"/>
<rect x="479" y="96" width="2" height="1"/>
<rect x="484" y="96" width="2" height="1"/>
<rect x="489" y="96" width="2" height="1"/>
<rect x="494" y="96" width="2" height="1"/>
<rect x="499" y="96" width="2" height="1"/>
<rect x="504" y="96" width="2" height="1"/>
<rect x="509" y="96" width="2" height="1"/>
<rect x="514" y="96" width="2" height="1"/>
<rect x="519" y="96" width="2" height="1"/>
<rect x="524" y="96" width="2" height="1"/>
<rect x="529" y="96" width="2" height="1"/>
<rect x="534" y="96" width="2" height="1"/>
<rect x="539" y="96" width="2" height="1"/>
<rect x="544" y="96" width="2" height="1"/>
<rect x="549" y="96" width="2" height="1"/>
<rect x="554" y="96" width="2" height="1"/>
<rect x="559" y="96" width="2" height="1"/>
<rect x="564" y="96" width="2" height="1"/>
<rect x="569" y="96" width="2" height="1"/>
<rect x="574" y="96" width="2" height="1"/>
<rect x="579" y="96" width="2" height="1"/>
<rect x="584" y="96" width="2" height="1"/>
<rect x="589" y="96" width="2" height="1"/>
<rect x="594" y="96" width="2" height="1"/>
<rect x="599" y="96" width="2" height="1"/>
<rect x="125" y="62" width="1" height="2"/>
<rect x="125" y="67" width="1" height="2"/>
<rect x="125" y="72" width="1" height="2"/>
<rect x="125" y="77" width="1" height="2"/>
<rect x="125" y="82" width="1" height="2"/>
<rect x="125" y="87" width="1" height="2"/>
<rect x="125" y="92" width="1" height="2"/>
<rect x="125" y="97" width="1" height="2"/>
<rect x="125" y="102" width="1" height="2"/>
<rect x="125" y="107" width="1" height="2"/>
<rect x="125" y="112" width="1" height="2"/>
<rect x="125" y="117" width="1" height="2"/>
<rect x="125" y="122" width="1" height="2"/>
<rect x="125" y="127" width="1" height="2"/>
<rect x="125" y="132" width="1" height="2"/>
<rect x="125" y="137" width="1" height="2"/>
<rect x="125" y="142" width="1" height="2"/>
<rect x="125" y="147" width="1" height="2"/>
<rect x="125" y="152" width="1" height="2"/>
<rect x="125" y="157" width="1" height="2"/>
<rect x="125" y="162" width="1" height="2"/>
<rect x="125" y="167" width="1" height="2"/>
<rect x="125" y="172" width="1" height="2"/>
<rect x="125" y="177" width="1" height="2"/>
<rect x="125" y="182" width="1" height="2"/>
<rect x="125" y="187" width="1" height="2"/>
<rect x="125" y="192" width="1" height="2"/>
<rect x="125" y="197" width="1" height="2"/>
<rect x="125" y="202" width="1" height="2"/>
<rect x="125" y="207" width="1" height="2"/>
<rect x="125" y="212" width="1" height="2"/>
<rect x="125" y="217" width="1" height="2"/>
<rect x="125" y="222" width="1" height="2"/>
<rect x="125" y="227" width="1" height="2"/>
<rect x="125" y="232" width="1" height="2"/>
<rect x="125" y="237" width="1" height="2"/>
<rect x="125" y="242" width="1" height="2"/>
<rect x="125" y="247" width="1" height="2"/>
<rect x="125" y="252" width="1" height="2"/>
<rect x="125" y="257" width="1" height="2"/>
<rect x="125" y="262" width="1" height="2"/>
<rect x="125" y="267" width="1" height="2"/>
<rect x="125" y="272" width="1" height="2"/>
<rect x="125" y="277" width="1" height="2"/>
<rect x="125" y="282" width="1" height="2"/>
<rect x="125" y="287" width="1" height="2"/>
<rect x="125" y="292" width="1" height="2"/>
<rect x="125" y="297" width="1" height="2"/>
<rect x="125" y="302" width="1" height="2"/>
<rect x="125" y="307" width="1" height="2"/>
<rect x="125" y="312" width="1" height="2"/>
<rect x="125" y="317" width="1" height="2"/>
<rect x="125" y="322" width="1" height="2"/>
<rect x="125" y="327" width="1" height="2"/>
<rect x="125" y="332" width="1" height="2"/>
<rect x="125" y="337" width="1" height="2"/>
<rect x="125" y="342" width="1" height="2"/>
<rect x="125" y="347" width="1" height="2"/>
<rect x="125" y="352" width="1" height="2"/>
<rect x="125" y="357" width="1" height="2"/>
<rect x="125" y="362" width="1" height="2"/>
<rect x="125" y="367" width="1" height="2"/>
<rect x="125" y="372" width="1" height="2"/>
<rect x="125" y="377" width="1" height="2"/>
<rect x="125" y="382" width="1" height="2"/>
<rect x="125" y="387" width="1" height="2"/>
<rect x="125" y="392" width="1" height="2"/>
<rect x="125" y="397" width="1" height="2"/>
<rect x="125" y="402" width="1" height="2"/>
<rect x="125" y="407" width="1" height="2"/>
<rect x="125" y="412" width="1" height="2"/>
<rect x="172" y="62" width="1" height="2"/>
<rect x="172" y="67" width="1" height="2"/>
<rect x="172" y="72" width="1" height="2"/>
<rect x="172" y="77" width="1" height="2"/>
<rect x="172" y="82" width="1" height="2"/>
<rect x="172" y="87" width="1" height="2"/>
<rect x="172" y="92" width="1" height="2"/>
<rect x="172" y="97" width="1" height="2"/>
<rect x="172" y="102" width="1" height="2"/>
<rect x="172" y="107" width="1" height="2"/>
<rect x="172" y="112" width="1" height="2"/>
<rect x="172" y="117" width="1" height="2"/>
<rect x="172" y="122" width="1" height="2"/>
<rect x="172" y="127" width="1" height="2"/>
<rect x="172" y="132" width="1" height="2"/>
<rect x="172" y="137" width="1" height="2"/>
<rect x="172" y="142" width="1" height="2"/>
<rect x="172" y="147" width="1" height="2"/>
<rect x="172" y="152" width="1" height="2"/>
<rect x="172" y="157" width="1" height="2"/>
<rect x="172" y="162" width="1" height="2"/>
<rect x="172" y="167" width="1" height="2"/>
<rect x="172" y="172" width="1" height="2"/>
<rect x="172" y="177" width="1" height="2"/>
<rect x="172" y="182" width="1" height="2"/>
<rect x="172" y="187" width="1" height="2"/>
<rect x="172" y="192" width="1" height="2"/>
<rect x="172" y="197" width="1" height="2"/>
<rect x="172" y="202" width="1" height="2"/>
<rect x="172" y="207" width="1" height="2"/>
<rect x="172" y="212" width="1" height="2"/>
<rect x="172" y="217" width="1" height="2"/>
<rect x="172" y="222" width="1" height="2"/>
<rect x="172" y="227" width="1" height="2"/>
<rect x="172" y="232" width="1" height="2"/>
<rect x="172" y="237" width="1" height="2"/>
<rect x="172" y="242" width="1" height="2"/>
<rect x="172" y="247" width="1" height="2"/>
<rect x="172" y="252" width="1" height="2"/>
<rect x="172" y="257" width="1" height="2"/>
<rect x="172" y="262" width="1" height="2"/>
<rect x="172" y="267" width="1" height="2"/>
<rect x="172" y="272" width="1" height="2"/>
<rect x="172" y="277" width="1" height="2"/>
<rect x="172" y="282" width="1" height="2"/>
<rect x="172" y="287" width="1" height="2"/>
<rect x="172" y="292" width="1" height="2"/>
<rect x="172" y="297" width="1" height="2"/>
<rect x="172" y="302" width="1" height="2"/>
<rect x="172" y="307" width="1" height="2"/>
<rect x="172" y="312" width="1" height="2"/>
<rect x="172" y="317" width="1" height="2"/>
<rect x="172" y="322" width="1" height="2"/>
<rect x="172" y="327" width="1" height="2"/>
<rect x="172" y="332" width="1" height="2"/>
<rect x="172" y="337" width="1" height="2"/>
<rect x="172" y="342" width="1" height="2"/>
<rect x="172" y="347" width="1" height="2"/>
<rect x="172" y="352" width="1" height="2"/>
<rect x="172" y="357" width="1" height="2"/>
<rect x="172" y="362" width="1" height="2"/>
<rect x="172" y="367" width="1" height="2"/>
<rect x="172" y="372" width="1" height="2"/>
<rect x="172" y="377" width="1" height="2"/>
<rect x="172" y="382" width="1" height="2"/>
<rect x="172" y="387" width="1" height="2"/>
<rect x="172" y="392" width="1" height="2"/>
<rect x="172" y="397" width="1" height="2"/>
<rect x="172" y="402" width="1" height="2"/>
<rect x="172" y="407" width="1" height="2"/>
<rect x="172" y="412" width="1" height="2"/>
<rect x="218" y="62" width="1" height="2"/>
<rect x="218" y="67" width="1" height="2"/>
<rect x="218" y="72" width="1" height="2"/>
<rect x="218" y="77" width="1" height="2"/>
<rect x="218" y="82" width="1" height="2"/>
<rect x="218" y="87" width="1" height="2"/>
<rect x="218" y="92" width="1" height="2"/>
<rect x="218" y="97" width="1" height="2"/>
<rect x="218" y="102" width="1" height="2"/>
<rect x="218" y="107" width="1" height="2"/>
<rect x="218" y="112" width="1" height="2"/>
<rect x="218" y="117" width="1" height="2"/>
<rect x="218" y="122" width="1" height="2"/>
<rect x="218" y="127" width="1" height="2"/>
<rect x="218" y="132" width="1" height="2"/>
<rect x="218" y="137" width="1" height="2"/>
<rect x="218" y="142" width="1" height="2"/>
<rect x="218" y="147" width="1" height="2"/>
<rect x="218" y="152" width="1" height="2"/>
<rect x="218" y="157" width="1" height="2"/>
<rect x="218" y="162" width="1" height="2"/>
<rect x="218" y="167" width="1" height="2"/>
<rect x="218" y="172" width="1" height="2"/>
<rect x="218" y="177" width="1" height="2"/>
<rect x="218" y="182" width="1" height="2"/>
<rect x="218" y="187" width="1" height="2"/>
<rect x="218" y="192" width="1" height="2"/>
<rect x="218" y="197" width="1" height="2"/>
<rect x="218" y="202" width="1" height="2"/>
<rect x="218" y="207" width="1" height="2"/>
<rect x="218" y="212" width="1" height="2"/>
<rect x="218" y="217" width="1" height="2"/>
<rect x="218" y="222" width="1" height="2"/>
<rect x="218" y="227" width="1" height="2"/>
<rect x="218" y="232" width="1" height="2"/>
<rect x="218" y="237" width="1" height="2"/>
<rect x="218" y="242" width="1" height="2"/>
<rect x="218" y="247" width="1" height="2"/>
<rect x="218" y="252" width="1" height="2"/>
<rect x="218" y="257" width="1" height="2"/>
<rect x="218" y="262" width="1" height="2"/>
<rect x="218" y="267" width="1" height="2"/>
<rect x="218" y="272" width="1" height="2"/>
<rect x="218" y="277" width="1" height="2"/>
<rect x="218" y="282" width="1" height="2"/>
<rect x="218" y="287" width="1" height="2"/>
<rect x="218" y="292" width="1" height="2"/>
<rect x="218" y="297" width="1" height="2"/>
<rect x="218" y="302" width="1" height="2"/>
<rect x="218" y="307" width="1" height="2"/>
<rect x="218" y="312" width="1" height="2"/>
<rect x="218" y="317" width="1" height="2"/>
<rect x="218" y="322" width="1" height="2"/>
<rect x="218" y="327" width="1" height="2"/>
<rect x="218" y="332" width="1" height="2"/>
<rect x="218" y="337" width="1" height="2"/>
<rect x="218" y="342" width="1" height="2"/>
<rect x="218" y="347" width="1" height="2"/>
<rect x="218" y="352" width="1" height="2"/>
<rect x="218" y="357" width="1" height="2"/>
<rect x="218" y="362" width="1" height="2"/>
<rect x="218" y="367" width="1" height="2"/>
<rect x="218" y="372" width="1" height="2"/>
<rect x="218" y="377" width="1" height="2"/>
<rect x="218" y="382" width="1" height="2"/>
<rect x="218" y="387" width="1" height="2"/>
<rect x="218" y="392" width="1" height="2"/>
<rect x="218" y="397" width="1" height="2"/>
<rect x="218" y="402" width="1" height="2"/>
<rect x="218" y="407" width="1" height="2"/>
<rect x="218" y="412" width="1" height="2"/>
<rect x="264" y="62" width="1" height="2"/>
<rect x="264" y="67" width="1" height="2"/>
<rect x="264" y="72" width="1" height="2"/>
<rect x="264" y="77" width="1" height="2"/>
<rect x="264" y="82" width="1" height="2"/>
<rect x="264" y="87" width="1" height="2"/>
<rect x="264" y="92" width="1" height="2"/>
<rect x="264" y="97" width="1" height="2"/>
<rect x="264" y="102" width="1" height="2"/>
<rect x="264" y="107" width="1" height="2"/>
<rect x="264" y="112" width="1" height="2"/>
<rect x="264" y="117" width="1" height="2"/>
<rect x="264" y="122" width="1" height="2"/>
<rect x="264" y="127" width="1" height="2"/>
<rect x="264" y="132" width="1" height="2"/>
<rect x="264" y="137" width="1" height="2"/>
<rect x="264" y="142" width="1" height="2"/>
<rect x="264" y="147" width="1" height="2"/>
<rect x="264" y="152" width="1" height="2"/>
<rect x="264" y="157" width="1" height="2"/>
<rect x="264" y="162" width="1" height="2"/>
<rect x="264" y="167" width="1" height="2"/>
<rect x="264" y="172" width="1" height="2"/>
<rect x="264" y="177" width="1" height="2"/>
<rect x="264" y="182" width="1" height="2"/>
<rect x="264" y="187" width="1" height="2"/>
<rect x="264" y="192" width="1" height="2"/>
<rect x="264" y="197" width="1" height="2"/>
<rect x="264" y="202" width="1" height="2"/>
<rect x="264" y="207" width="1" height="2"/>
<rect x="264" y="212" width="1" height="2"/>
<rect x="264" y="217" width="1" height="2"/>
<rect x="264" y="222" width="1" height="2"/>
<rect x="264" y="227" width="1" height="2"/>
<rect x="264" y="232" width="1" height="2"/>
<rect x="264" y="237" width="1" height="2"/>
<rect x="264" y="242" width="1" height="2"/>
<rect x="264" y="247" width="1" height="2"/>
<rect x="264" y="252" width="1" height="2"/>
<rect x="264" y="257" width="1" height="2"/>
<rect x="264" y="262" width="1" height="2"/>
<rect x="264" y="267" width="1" height="2"/>
<rect x="264" y="272" width="1" height="2"/>
<rect x="264" y="277" width="1" height="2"/>
<rect x="264" y="282" width="1" height="2"/>
<rect x="264" y="287" width="1" height="2"/>
<rect x="264" y="292" width="1" height="2"/>
<rect x="264" y="297" width="1" height="2"/>
<rect x="264" y="302" width="1" height="2"/>
<rect x="264" y="307" width="1" height="2"/>
<rect x="264" y="312" width="1" height="2"/>
<rect x="264" y="317" width="1" height="2"/>
<rect x="264" y="322" width="1" height="2"/>
<rect x="264" y="327" width="1" height="2"/>
<rect x="264" y="332" width="1" height="2"/>
<rect x="264" y="337" width="1" height="2"/>
<rect x="264" y="342" width="1" height="2"/>
<rect x="264" y="347" width="1" height="2"/>
<rect x="264" y="352" width="1" height="2"/>
<rect x="264" y="357" width="1" height="2"/>
<rect x="264" y="362" width="1" height="2"/>
<rect x="264" y="367" width="1" height="2"/>
<rect x="264" y="372" width="1" height="2"/>
<rect x="264" y="377" width="1" height="2"/>
<rect x="264" y="382" width="1" height="2"/>
<rect x="264" y="387" width="1" height="2"/>
<rect x="264" y="392" width="1" height="2"/>
<rect x="264" y="397" width="1" height="2"/>
<rect x="264" y="402" width="1" height="2"/>
<rect x="264" y="407" width="1" height="2"/>
<rect x="264" y="412" width="1" height="2"/>
<rect x="311" y="62" width="1" height="2"/>
<rect x="311" y="67" width="1" height="2"/>
<rect x="311" y="72" width="1" height="2"/>
<rect x="311" y="77" width="1" height="2"/>
<rect x="311" y="82" width="1" height="2"/>
<rect x="311" y="87" width="1" height="2"/>
<rect x="311" y="92" width="1" height="2"/>
<rect x="311" y="97" width="1" height="2"/>
<rect x="311" y="102" width="1" height="2"/>
<rect x="311" y="107" width="1" height="2"/>
<rect x="311" y="112" width="1" height="2"/>
<rect x="311" y="117" width="1" height="2"/>
<rect x="311" y="122" width="1" height="2"/>
<rect x="311" y="127" width="1" height="2"/>
<rect x="311" y="132" width="1" height="2"/>
<rect x="311" y="137" width="1" height="2"/>
<rect x="311" y="142" width="1" height="2"/>
<rect x="311" y="147" width="1" height="2"/>
<rect x="311" y="152" width="1" height="2"/>
<rect x="311" y="157" width="1" height="2"/>
<rect x="311" y="162" width="1" height="2"/>
<rect x="311" y="167" width="1" height="2"/>
<rect x="311" y="172" width="1" height="2"/>
<rect x="311" y="177" width="1" height="2"/>
<rect x="311" y="182" width="1" height="2"/>
<rect x="311" y="187" width="1" height="2"/>
<rect x="311" y="192" width="1" height="2"/>
<rect x="311" y="197" width="1" height="2"/>
<rect x="311" y="202" width="1" height="2"/>
<rect x="311" y="207" width="1" height="2"/>
<rect x="311" y="212" width="1" height="2"/>
<rect x="311" y="217" width="1" height="2"/>
<rect x="311" y="222" width="1" height="2"/>
<rect x="311" y="227" width="1" height="2"/>
<rect x="311" y="232" width="1" height="2"/>
<rect x="311" y="237" width="1" height="2"/>
<rect x="311" y="242" width="1" height="2"/>
<rect x="311" y="247" width="1" height="2"/>
<rect x="311" y="252" width="1" height="2"/>
<rect x="311" y="257" width="1" height="2"/>
<rect x="311" y="262" width="1" height="2"/>
<rect x="311" y="267" width="1" height="2"/>
<rect x="311" y="272" width="1" height="2"/>
<rect x="311" y="277" width="1" height="2"/>
<rect x="311" y="282" width="1" height="2"/>
<rect x="311" y="287" width="1" height="2"/>
<rect x="311" y="292" width="1" height="2"/>
<rect x="311" y="297" width="1" height="2"/>
<rect x="311" y="302" width="1" height="2"/>
<rect x="311" y="307" width="1" height="2"/>
<rect x="311" y="312" width="1" height="2"/>
<rect x="311" y="317" width="1" height="2"/>
<rect x="311" y="322" width="1" height="2"/>
<rect x="311" y="327" width="1" height="2"/>
<rect x="311" y="332" width="1" height="2"/>
<rect x="311" y="337" width="1" height="2"/>
<rect x="311" y="342" width="1" height="2"/>
<rect x="311" y="347" width="1" height="2"/>
<rect x="311" y="352" width="1" height="2"/>
<rect x="311" y="357" width="1" height="2"/>
<rect x="311" y="362" width="1" height="2"/>
<rect x="311" y="367" width="1" height="2"/>
<rect x="311" y="372" width="1" height="2"/>
<rect x="311" y="377" width="1" height="2"/>
<rect x="311" y="382" width="1" height="2"/>
<rect x="311" y="387" width="1" height="2"/>
<rect x="311" y="392" width="1" height="2"/>
<rect x="311" y="397" width="1" height="2"/>
<rect x="311" y="402" width="1" height="2"/>
<rect x="311" y="407" width="1" height="2"/>
<rect x="311" y="412" width="1" height="2"/>
<rect x="357" y="62" width="1" height="2"/>
<rect x="357" y="67" width="1" height="2"/>
<rect x="357" y="72" width="1" height="2"/>
<rect x="357" y="77" width="1" height="2"/>
<rect x="357" y="82" width="1" height="2"/>
<rect x="357" y="87" width="1" height="2"/>
<rect x="357" y="92" width="1" height="2"/>
<rect x="357" y="97" width="1" height="2"/>
<rect x="357" y="102" width="1" height="2"/>
<rect x="357" y="107" width="1" height="2"/>
<rect x="357" y="112" width="1" height="2"/>
<rect x="357" y="117" width="1" height="2"/>
<rect x="357" y="122" width="1" height="2"/>
<rect x="357" y="127" width="1" height="2"/>
<rect x="357" y="132" width="1" height="2"/>
<rect x="357" y="137" width="1" height="2"/>
<rect x="357" y="142" width="1" height="2"/>
<rect x="357" y="147" width="1" height="2"/>
<rect x="357" y="152" width="1" height="2"/>
<rect x="357" y="157" width="1" height="2"/>
<rect x="357" y="162" width="1" height="2"/>
<rect x="357" y="167" width="1" height="2"/>
<rect x="357" y="172" width="1" height="2"/>
<rect x="357" y="177" width="1" height="2"/>
<rect x="357" y="182" width="1" height="2"/>
<rect x="357" y="187" width="1" height="2"/>
<rect x="357" y="192" width="1" height="2"/>
<rect x="357" y="197" width="1" height="2"/>
<rect x="357" y="202" width="1" height="2"/>
<rect x="357" y="207" width="1" height="2"/>
<rect x="357" y="212" width="1" height="2"/>
<rect x="357" y="217" width="1" height="2"/>
<rect x="357" y="222" width="1" height="2"/>
<rect x="357" y="227" width="1" height="2"/>
<rect x="357" y="232" width="1" height="2"/>
<rect x="357" y="237" width="1" height="2"/>
<rect x="357" y="242" width="1" height="2"/>
<rect x="357" y="247" width="1" height="2"/>
<rect x="357" y="252" width="1" height="2"/>
<rect x="357" y="257" width="1" height="2"/>
<rect x="357" y="262" width="1" height="2"/>
<rect x="357" y="267" width="1" height="2"/>
<rect x="357" y="272" width="1" height="2"/>
<rect x="357" y="277" width="1" height="2"/>
<rect x="357" y="282" width="1" height="2"/>
<rect x="357" y="287" width="1" height="2"/>
<rect x="357" y="292" width="1" height="2"/>
<rect x="357" y="297" width="1" height="2"/>
<rect x="357" y="302" width="1" height="2"/>
<rect x="357" y="307" width="1" height="2"/>
<rect x="357" y="312" width="1" height="2"/>
<rect x="357" y="317" width="1" height="2"/>
<rect x="357" y="322" width="1" height="2"/>
<rect x="357" y="327" width="1" height="2"/>
<rect x="357" y="332" width="1" height="2"/>
<rect x="357" y="337" width="1" height="2"/>
<rect x="357" y="342" width="1" height="2"/>
<rect x="357" y="347" width="1" height="2"/>
<rect x="357" y="352" width="1" height="2"/>
<rect x="357" y="357" width="1" height="2"/>
<rect x="357" y="362" width="1" height="2"/>
<rect x="357" y="367" width="1" height="2"/>
<rect x="357" y="372" width="1" height="2"/>
<rect x="357" y="377" width="1" height="2"/>
<rect x="357" y="382" width="1" height="2"/>
<rect x="357" y="387" width="1" height="2"/>
<rect x="357" y="392" width="1" height="2"/>
<rect x="357" y="397" width="1" height="2"/>
<rect x="357" y="402" width="1" height="2"/>
<rect x="357" y="407" width="1" height="2"/>
<rect x="357" y="412" width="1" height="2"/>
<rect x="403" y="62" width="1" height="2"/>
<rect x="403" y="67" width="1" height="2"/>
<rect x="403" y="72" width="1" height="2"/>
<rect x="403" y="77" width="1" height="2"/>
<rect x="403" y="82" width="1" height="2"/>
<rect x="403" y="87" width="1" height="2"/>
<rect x="403" y="92" width="1" height="2"/>
<rect x="403" y="97" width="1" height="2"/>
<rect x="403" y="102" width="1" height="2"/>
<rect x="403" y="107" width="1" height="2"/>
<rect x="403" y="112" width="1" height="2"/>
<rect x="403" y="117" width="1" height="2"/>
<rect x="403" y="122" width="1" height="2"/>
<rect x="403" y="127" width="1" height="2"/>
<rect x="403" y="132" width="1" height="2"/>
<rect x="403" y="137" width="1" height="2"/>
<rect x="403" y="142" width="1" height="2"/>
<rect x="403" y="147" width="1" height="2"/>
<rect x="403" y="152" width="1" height="2"/>
<rect x="403" y="157" width="1" height="2"/>
<rect x="403" y="162" width="1" height="2"/>
<rect x="403" y="167" width="1" height="2"/>
<rect x="403" y="172" width="1" height="2"/>
<rect x="403" y="177" width="1" height="2"/>
<rect x="403" y="182" width="1" height="2"/>
<rect x="403" y="187" width="1" height="2"/>
<rect x="403" y="192" width="1" height="2"/>
<rect x="403" y="197" width="1" height="2"/>
<rect x="403" y="202" width="1" height="2"/>
<rect x="403" y="207" width="1" height="2"/>
<rect x="403" y="212" width="1" height="2"/>
<rect x="403" y="217" width="1" height="2"/>
<rect x="403" y="222" width="1" height="2"/>
<rect x="403" y="227" width="1" height="2"/>
<rect x="403" y="232" width="1" height="2"/>
<rect x="403" y="237" width="1" height="2"/>
<rect x="403" y="242" width="1" height="2"/>
<rect x="403" y="247" width="1" height="2"/>
<rect x="403" y="252" width="1" height="2"/>
<rect x="403" y="257" width="1" height="2"/>
<rect x="403" y="262" width="1" height="2"/>
<rect x="403" y="267" width="1" height="2"/>
<rect x="403" y="272" width="1" height="2"/>
<rect x="403" y="277" width="1" height="2"/>
<rect x="403" y="282" width="1" height="2"/>
<rect x="403" y="287" width="1" height="2"/>
<rect x="403" y="292" width="1" height="2"/>
<rect x="403" y="297" width="1" height="2"/>
<rect x="403" y="302" width="1" height="2"/>
<rect x="403" y="307" width="1" height="2"/>
<rect x="403" y="312" width="1" height="2"/>
<rect x="403" y="317" width="1" height="2"/>
<rect x="403" y="322" width="1" height="2"/>
<rect x="403" y="327" width="1" height="2"/>
<rect x="403" y="332" width="1" height="2"/>
<rect x="403" y="337" width="1" height="2"/>
<rect x="403" y="342" width="1" height="2"/>
<rect x="403" y="347" width="1" height="2"/>
<rect x="403" y="352" width="1" height="2"/>
<rect x="403" y="357" width="1" height="2"/>
<rect x="403" y="362" width="1" height="2"/>
<rect x="403" y="367" width="1" height="2"/>
<rect x="403" y="372" width="1" height="2"/>
<rect x="403" y="377" width="1" height="2"/>
<rect x="403" y="382" width="1" height="2"/>
<rect x="403" y="387" width="1" height="2"/>
<rect x="403" y="392" width="1" height="2"/>
<rect x="403" y="397" width="1" height="2"/>
<rect x="403" y="402" width="1" height="2"/>
<rect x="403" y="407" width="1" height="2"/>
<rect x="403" y="412" width="1" height="2"/>
<rect x="450" y="80" width="1" height="2"/>
<rect x="450" y="85" width="1" height="2"/>
<rect x="450" y="90" width="1" height="2"/>
<rect x="450" y="95" width="1" height="2"/>
<rect x="450" y="100" width="1" height="2"/>
<rect x="450" y="105" width="1" height="2"/>
<rect x="450" y="110" width="1" height="2"/>
<rect x="450" y="115" width="1" height="2"/>
<rect x="450" y="120" width="1" height="2"/>
<rect x="450" y="125" width="1" height="2"/>
<rect x="450" y="130" width="1" height="2"/>
<rect x="450" y="135" width="1" height="2"/>
<rect x="450" y="140" width="1" height="2"/>
<rect x="450" y="145" width="1" height="2"/>
<rect x="450" y="150" width="1" height="2"/>
<rect x="450" y="155" width="1" height="2"/>
<rect x="450" y="160" width="1" height="2"/>
<rect x="450" y="165" width="1" height="2"/>
<rect x="450" y="170" width="1" height="2"/>
<rect x="450" y="175" width="1" height="2"/>
<rect x="450" y="180" width="1" height="2"/>
<rect x="450" y="185" width="1" height="2"/>
<rect x="450" y="190" width="1" height="2"/>
<rect x="450" y="195" width="1" height="2"/>
<rect x="450" y="200" width="1" height="2"/>
<rect x="450" y="205" width="1" height="2"/>
<rect x="450" y="210" width="1" height="2"/>
<rect x="450" y="215" width="1" height="2"/>
<rect x="450" y="220" width="1" height="2"/>
<rect x="450" y="225" width="1" height="2"/>
<rect x="450" y="230" width="1" height="2"/>
<rect x="450" y="235" width="1" height="2"/>
<rect x="450" y="240" width="1" height="2"/>
<rect x="450" y="245" width="1" height="2"/>
<rect x="450" y="250" width="1" height="2"/>
<rect x="450" y="255" width="1" height="2"/>
<rect x="450" y="260" width="1" height="2"/>
<rect x="450" y="265" width="1" height="2"/>
<rect x="450" y="270" width="1" height="2"/>
<rect x="450" y="275" width="1" height="2"/>
<rect x="450" y="280" width="1" height="2"/>
<rect x="450" y="285" width="1" height="2"/>
<rect x="450" y="290" width="1" height="2"/>
<rect x="450" y="295" width="1" height="2"/>
<rect x="450" y="300" width="1" height="2"/>
<rect x="450" y="305" width="1" height="2"/>
<rect x="450" y="310" width="1" height="2"/>
<rect x="450" y="315" width="1" height="2"/>
<rect x="450" y="320" width="1" height="2"/>
<rect x="450" y="325" width="1" height="2"/>
<rect x="450" y="330" width="1" height="2"/>
<rect x="450" y="335" width="1" height="2"/>
<rect x="450" y="340" width="1" height="2"/>
<rect x="450" y="345" width="1" height="2"/>
<rect x="450" y="350" width="1" height="2"/>
<rect x="450" y="355" width="1" height="2"/>
<rect x="450" y="360" width="1" height="2"/>
<rect x="450" y="365" width="1" height="2"/>
<rect x="450" y="370" width="1" height="2"/>
<rect x="450" y="375" width="1" height="2"/>
<rect x="450" y="380" width="1" height="2"/>
<rect x="450" y="385" width="1" height="2"/>
<rect x="450" y="390" width="1" height="2"/>
<rect x="450" y="395" width="1" height="2"/>
<rect x="450" y="400" width="1" height="2"/>
<rect x="450" y="405" width="1" height="2"/>
<rect x="450" y="410" width="1" height="2"/>
<rect x="496" y="80" width="1" height="2"/>
<rect x="496" y="85" width="1" height="2"/>
<rect x="496" y="90" width="1" height="2"/>
<rect x="496" y="95" width="1" height="2"/>
<rect x="496" y="100" width="1" height="2"/>
<rect x="496" y="105" width="1" height="2"/>
<rect x="496" y="110" width="1" height="2"/>
<rect x="496" y="115" width="1" height="2"/>
<rect x="496" y="120" width="1" height="2"/>
<rect x="496" y="125" width="1" height="2"/>
<rect x="496" y="130" width="1" height="2"/>
<rect x="496" y="135" width="1" height="2"/>
<rect x="496" y="140" width="1" height="2"/>
<rect x="496" y="145" width="1" height="2"/>
<rect x="496" y="150" width="1" height="2"/>
<rect x="496" y="155" width="1" height="2"/>
<rect x="496" y="160" width="1" height="2"/>
<rect x="496" y="165" width="1" height="2"/>
<rect x="496" y="170" width="1" height="2"/>
<rect x="496" y="175" width="1" height="2"/>
<rect x="496" y="180" width="1" height="2"/>
<rect x="496" y="185" width="1" height="2"/>
<rect x="496" y="190" width="1" height="2"/>
<rect x="496" y="195" width="1" height="2"/>
<rect x="496" y="200" width="1" height="2"/>
<rect x="496" y="205" width="1" height="2"/>
<rect x="496" y="210" width="1" height="2"/>
<rect x="496" y="215" width="1" height="2"/>
<rect x="496" y="220" width="1" height="2"/>
<rect x="496" y="225" width="1" height="2"/>
<rect x="496" y="230" width="1" height="2"/>
<rect x="496" y="235" width="1" height="2"/>
<rect x="496" y="240" width="1" height="2"/>
<rect x="496" y="245" width="1" height="2"/>
<rect x="496" y="250" width="1" height="2"/>
<rect x="496" y="255" width="1" height="2"/>
<rect x="496" y="260" width="1" height="2"/>
<rect x="496" y="265" width="1" height="2"/>
<rect x="496" y="270" width="1" height="2"/>
<rect x="496" y="275" width="1" height="2"/>
<rect x="496" y="280" width="1" height="2"/>
<rect x="496" y="285" width="1" height="2"/>
<rect x="496" y="290" width="1" height="2"/>
<rect x="496" y="295" width="1" height="2"/>
<rect x="496" y="300" width="1" height="2"/>
<rect x="496" y="305" width="1" height="2"/>
<rect x="496" y="310" width="1" height="2"/>
<rect x="496" y="315" width="1" height="2"/>
<rect x="496" y="320" width="1" height="2"/>
<rect x="496" y="325" width="1" height="2"/>
<rect x="496" y="330" width="1" height="2"/>
<rect x="496" y="335" width="1" height="2"/>
<rect x="496" y="340" width="1" height="2"/>
<rect x="496" y="345" width="1" height="2"/>
<rect x="496" y="350" width="1" height="2"/>
<rect x="496" y="355" width="1" height="2"/>
<rect x="496" y="360" width="1" height="2"/>
<rect x="496" y="365" width="1" height="2"/>
<rect x="496" y="370" width="1" height="2"/>
<rect x="496" y="375" width="1" height="2"/>
<rect x="496" y="380" width="1" height="2"/>
<rect x="496" y="385" width="1" height="2"/>
<rect x="496" y="390" width="1" height="2"/>
<rect x="496" y="395" width="1" height="2"/>
<rect x="496" y="400" width="1" height="2"/>
<rect x="496" y="405" width="1" height="2"/>
<rect x="496" y="410" width="1" height="2"/>
<rect x="542" y="80" width="1" height="2"/>
<rect x="542" y="85" width="1" height="2"/>
<rect x="542" y="90" width="1" height="2"/>
<rect x="542" y="95" width="1" height="2"/>
<rect x="542" y="100" width="1" height="2"/>
<rect x="542" y="105" width="1" height="2"/>
<rect x="542" y="110" width="1" height="2"/>
<rect x="542" y="115" width="1" height="2"/>
<rect x="542" y="120" width="1" height="2"/>
<rect x="542" y="125" width="1" height="2"/>
<rect x="542" y="130" width="1" height="2"/>
<rect x="542" y="135" width="1" height="2"/>
<rect x="542" y="140" width="1" height="2"/>
<rect x="542" y="145" width="1" height="2"/>
<rect x="542" y="150" width="1" height="2"/>
<rect x="542" y="155" width="1" height="2"/>
<rect x="542" y="160" width="1" height="2"/>
<rect x="542" y="165" width="1" height="2"/>
<rect x="542" y="170" width="1" height="2"/>
<rect x="542" y="175" width="1" height="2"/>
<rect x="542" y="180" width="1" height="2"/>
<rect x="542" y="185" width="1" height="2"/>
<rect x="542" y="190" width="1" height="2"/>
<rect x="542" y="195" width="1" height="2"/>
<rect x="542" y="200" width="1" height="2"/>
<rect x="542" y="205" width="1" height="2"/>
<rect x="542" y="210" width="1" height="2"/>
<rect x="542" y="215" width="1" height="2"/>
<rect x="542" y="220" width="1" height="2"/>
<rect x="542" y="225" width="1" height="2"/>
<rect x="542" y="230" width="1" height="2"/>
<rect x="542" y="235" width="1" height="2"/>
<rect x="542" y="240" width="1" height="2"/>
<rect x="542" y="245" width="1" height="2"/>
<rect x="542" y="250" width="1" height="2"/>
<rect x="542" y="255" width="1" height="2"/>
<rect x="542" y="260" width="1" height="2"/>
<rect x="542" y="265" width="1" height="2"/>
<rect x="542" y="270" width="1" height="2"/>
<rect x="542" y="275" width="1" height="2"/>
<rect x="542" y="280" width="1" height="2"/>
<rect x="542" y="285" width="1" height="2"/>
<rect x="542" y="290" width="1" height="2"/>
<rect x="542" y="295" width="1" height="2"/>
<rect x="542" y="300" width="1" height="2"/>
<rect x="542" y="305" width="1" height="2"/>
<rect x="542" y="310" width="1" height="2"/>
<rect x="542" y="315" width="1" height="2"/>
<rect x="542" y="320" width="1" height="2"/>
<rect x="542" y="325" width="1" height="2"/>
<rect x="542" y="330" width="1" height="2"/>
<rect x="542" y="335" width="1" height="2"/>
<rect x="542" y="340" width="1" height="2"/>
<rect x="542" y="345" width="1" height="2"/>
<rect x="542" y="350" width="1" height="2"/>
<rect x="542" y="355" width="1" height="2"/>
<rect x="542" y="360" width="1" height="2"/>
<rect x="542" y="365" width="1" height="2"/>
<rect x="542" y="370" width="1" height="2"/>
<rect x="542" y="375" width="1" height="2"/>
<rect x="542" y="380" width="1" height="2"/>
<rect x="542" y="385" width="1" height="2"/>
<rect x="542" y="390" width="1" height="2"/>
<rect x="542" y="395" width="1" height="2"/>
<rect x="542" y="400" width="1" height="2"/>
<rect x="542" y="405" width="1" height="2"/>
<rect x="542" y="410" width="1" height="2"/>
<rect x="589" y="80" width="1" height="2"/>
<rect x="589" y="85" width="1" height="2"/>
<rect x="589" y="90" width="1" height="2"/>
<rect x="589" y="95" width="1" height="2"/>
<rect x="589" y="100" width="1" height="2"/>
<rect x="589" y="105" width="1" height="2"/>
<rect x="589" y="110" width="1" height="2"/>
<rect x="589" y="115" width="1" height="2"/>
<rect x="589" y="120" width="1" height="2"/>
<rect x="589" y="125" width="1" height="2"/>
<rect x="589" y="130" width="1" height="2"/>
<rect x="589" y="135" width="1" height="2"/>
<rect x="589" y="140" width="1" height="2"/>
<rect x="589" y="145" width="1" height="2"/>
<rect x="589" y="150" width="1" height="2"/>
<rect x="589" y="155" width="1" height="2"/>
<rect x="589" y="160" width="1" height="2"/>
<rect x="589" y="165" width="1" height="2"/>
<rect x="589" y="170" width="1" height="2"/>
<rect x="589" y="175" width="1" height="2"/>
<rect x="589" y="180" width="1" height="2"/>
<rect x="589" y="185" width="1" height="2"/>
<rect x="589" y="190" width="1" height="2"/>
<rect x="589" y="195" width="1" height="2"/>
<rect x="589" y="200" width="1" height="2"/>
<rect x="589" y="205" width="1" height="2"/>
<rect x="589" y="210" width="1" height="2"/>
<rect x="589" y="215" width="1" height="2"/>
<rect x="589" y="220" width="1" height="2"/>
<rect x="589" y="225" width="1" height="2"/>
<rect x="589" y="230" width="1" height="2"/>
<rect x="589" y="235" width="1" height="2"/>
<rect x="589" y="240" width="1" height="2"/>
<rect x="589" y="245" width="1" height="2"/>
<rect x="589" y="250" width="1" height="2"/>
<rect x="589" y="255" width="1" height="2"/>
<rect x="589" y="260" width="1" height="2"/>
<rect x="589" y="265" width="1" height="2"/>
<rect x="589" y="270" width="1" height="2"/>
<rect x="589" y="275" width="1" height="2"/>
<rect x="589" y="280" width="1" height="2"/>
<rect x="589" y="285" width="1" height="2"/>
<rect x="589" y="290" width="1" height="2"/>
<rect x="589" y="295" width="1" height="2"/>
<rect x="589" y="300" width="1" height="2"/>
<rect x="589" y="305" width="1" height="2"/>
<rect x="589" y="310" width="1" height="2"/>
<rect x="589" y="315" width="1" height="2"/>
<rect x="589" y="320" width="1" height="2"/>
<rect x="589" y="325" width="1" height="2"/>
<rect x="589" y="330" width="1" height="2"/>
<rect x="589" y="335" width="1" height="2"/>
<rect x="589" y="340" width="1" height="2"/>
<rect x="589" y="345" width="1" height="2"/>
<rect x="589" y="350" width="1" height="2"/>
<rect x="589" y="355" width="1" height="2"/>
<rect x="589" y="360" width="1" height="2"/>
<rect x="589" y="365" width="1" height="2"/>
<rect x="589" y="370" width="1" height="2"/>
<rect x="589" y="375" width="1" height="2"/>
<rect x="589" y="380" width="1" height="2"/>
<rect x="589" y="385" width="1" height="2"/>
<rect x="589" y="390" width="1" height="2"/>
<rect x="589" y="395" width="1" height="2"/>
<rect x="589" y="400" width="1" height="2"/>
<rect x="589" y="405" width="1" height="2"/>
<rect x="589" y="410" width="1" height="2"/>
</g>
<rect x="445" y="58" width="160" height="22" fill="#fff"/>
<g fill="#000" shape-rendering="crispEdges">
<rect x="79" y="57" width="528" height="1"/>
<rect x="79" y="419" width="528" height="1"/>
<rect x="79" y="57" width="1" height="363"/>
<rect x="606" y="57" width="1" height="363"/>
<rect x="80" y="379" width="4" height="1"/>
<rect x="602" y="379" width="4" height="1"/>
<rect x="80" y="338" width="4" height="1"/>
<rect x="602" y="338" width="4" height="1"/>
<rect x="80" y="298" width="4" height="1"/>
<rect x="602" y="298" width="4" height="1"/>
<rect x="80" y="258" width="4" height="1"/>
<rect x="602" y="258" width="4" height="1"/>
<rect x="80" y="217" width="4" height="1"/>
<rect x="602" y="217" width="4" height="1"/>
<rect x="80" y="177" width="4" height="1"/>
<rect x="602" y="177" width="4" height="1"/>
<rect x="80" y="136" width="4" height="1"/>
<rect x="602" y="136" width="4" height="1"/>
<rect x="80" y="96" width="4" height="1"/>
<rect x="602" y="96" width="4" height="1"/>
<rect x="80" y="419" width="4" height="1"/>
<rect x="602" y="419" width="4" height="1"/>
<rect x="102" y="58" width="1" height="2"/>
<rect x="125" y="58" width="1" height="4"/>
<rect x="148" y="58" width="1" height="2"/>
<rect x="172" y="58" width="1" height="4"/>
<rect x="195" y="58" width="1" height="2"/>
<rect x="218" y="58" width="1" height="4"/>
<rect x="241" y="58" width="1" height="2"/>
<rect x="264" y="58" width="1" height="4"/>
<rect x="287" y="58" width="1" height="2"/>
<rect x="311" y="58" width="1" height="4"/>
<rect x="334" y="58" width="1" height="2"/>
<rect x="357" y="58" width="1" height="4"/>
<rect x="380" y="58" width="1" height="2"/>
<rect x="403" y="58" width="1" height="4"/>
<rect x="426" y="58" width="1" height="2"/>
<rect x="450" y="58" width="1" height="4"/>
<rect x="473" y="58" width="1" height="2"/>
<rect x="496" y="58" width="1" height="4"/>
<rect x="519" y="58" width="1" height="2"/>
<rect x="542" y="58" width="1" height="4"/>
<rect x="565" y="58" width="1" height="2"/>
<rect x="589" y="58" width="1" height="4"/>
</g>
<g shape-rendering="crispEdges">
<rect x="80" y="340" width="2" height="79" fill="#ffff00"/>
<rect x="83" y="336" width="5" height="83" fill="#ffa500"/>
<rect x="89" y="330" width="4" height="89" fill="#ffa500"/>
<rect x="95" y="329" width="4" height="90" fill="#ffa500"/>
<rect x="100" y="344" width="5" height="75" fill="#ffff00"/>
<rect x="106" y="350" width="5" height="69" fill="#ffff00"/>
<rect x="112" y="348" width="4" height="71" fill="#ffff00"/>
<rect x="118" y="345" width="4" height="74" fill="#ffff00"/>
<rect x="124" y="342" width="4" height="77" fill="#ffff00"/>
<rect x="129" y="348" width="5" height="71" fill="#ffff00"/>
<rect x="135" y="353" width="5" height="66" fill="#ffff00"/>
<rect x="141" y="354" width="4" height="65" fill="#ffff00"/>
<rect x="147" y="353" width="4" height="66" fill="#ffff00"/>
<rect x="153" y="360" width="4" height="59" fill="#ffff00"/>
<rect x="158" y="363" width="5" height="56" fill="#ffff00"/>
<rect x="164" y="362" width="5" height="57" fill="#ffff00"/>
<rect x="170" y="362" width="4" height="57" fill="#ffff00"/>
<rect x="176" y="361" width="4" height="58" fill="#ffff00"/>
<rect x="181" y="360" width="5" height="59" fill="#ffff00"/>
<rect x="187" y="359" width="5" height="60" fill="#ffff00"/>
<rect x="193" y="360" width="5" height="59" fill="#ffff00"/>
<rect x="199" y="360" width="4" height="59" fill="#ffff00"/>
<rect x="205" y="360" width="4" height="59" fill="#ffff00"/>
<rect x="210" y="362" width="5" height="57" fill="#ffff00"/>
<rect x="216" y="364" width="5" height="55" fill="#ffff00"/>
<rect x="222" y="361" width="5" height="58" fill="#ffff00"/>
<rect x="228" y="357" width="4" height="62" fill="#ffff00"/>
<rect x="234" y="351" width="4" height="68" fill="#ffff00"/>
<rect x="239" y="344" width="5" height="75" fill="#ffff00"/>
<rect x="245" y="338" width="5" height="81" fill="#ffa500"/>
<rect x="251" y="338" width="4" height="81" fill="#ffa500"/>
<rect x="257" y="341" width="4" height="78" fill="#ffff00"/>
<rect x="263" y="336" width="4" height="83" fill="#ffa500"/>
<rect x="268" y="334" width="5" height="85" fill="#ffa500"/>
<rect x="274" y="330" width="5" height="89" fill="#ffa500"/>
<rect x="280" y="330" width="4" height="89" fill="#ffa500"/>
<rect x="286" y="318" width="4" height="101" fill="#ffa500"/>
<rect x="292" y="292" width="4" height="127" fill="#ffa500"/>
<rect x="297" y="280" width="5" height="139" fill="#ffa500"/>
<rect x="303" y="286" width="5" height="133" fill="#ffa500"/>
<rect x="309" y="293" width="4" height="126" fill="#ffa500"/>
<rect x="315" y="293" width="4" height="126" fill="#ffa500"/>
<rect x="320" y="266" width="5" height="153" fill="#ffa500"/>
<rect x="326" y="259" width="5" height="160" fill="#ffa500"/>
<rect x="332" y="288" width="5" height="131" fill="#ffa500"/>
<rect x="338" y="285" width="4" height="134" fill="#ffa500"/>
<rect x="344" y="279" width="4" height="140" fill="#ffa500"/>
<rect x="349" y="301" width="5" height="118" fill="#ffa500"/>
<rect x="355" y="318" width="5" height="101" fill="#ffa500"/>
<rect x="361" y="309" width="5" height="110" fill="#ffa500"/>
<rect x="367" y="321" width="4" height="98" fill="#ffa500"/>
<rect x="373" y="328" width="4" height="91" fill="#ffa500"/>
<rect x="378" y="336" width="5" height="83" fill="#ffa500"/>
<rect x="384" y="341" width="5" height="78" fill="#ffff00"/>
<rect x="390" y="342" width="4" height="77" fill="#ffff00"/>
<rect x="396" y="342" width="4" height="77" fill="#ffff00"/>
<rect x="402" y="335" width="4" height="84" fill="#ffa500"/>
<rect x="407" y="337" width="5" height="82" fill="#ffa500"/>
<rect x="413" y="332" width="5" height="87" fill="#ffa500"/>
<rect x="419" y="328" width="4" height="91" fill="#ffa500"/>
<rect x="425" y="341" width="4" height="78" fill="#ffff00"/>
<rect x="431" y="342" width="4" height="77" fill="#ffff00"/>
<rect x="436" y="343" width="5" height="76" fill="#ffff00"/>
<rect x="442" y="347" width="5" height="72" fill="#ffff00"/>
<rect x="448" y="351" width="4" height="68" fill="#ffff00"/>
<rect x="454" y="354" width="4" height="65" fill="#ffff00"/>
<rect x="459" y="360" width="5" height="59" fill="#ffff00"/>
<rect x="465" y="368" width="5" height="51" fill="#ffff00"/>
<rect x="471" y="368" width="5" height="51" fill="#ffff00"/>
<rect x="477" y="366" width="4" height="53" fill="#ffff00"/>
<rect x="483" y="368" width="4" height="51" fill="#ffff00"/>
<rect x="488" y="370" width="5" height="49" fill="#ffff00"/>
<rect x="494" y="376" width="5" height="43" fill="#ffff00"/>
<rect x="500" y="377" width="5" height="42" fill="#ffff00"/>
<rect x="506" y="380" width="4" height="39" fill="#80c040"/>
<rect x="512" y="378" width="4" height="41" fill="#ffff00"/>
<rect x="517" y="371" width="5" height="48" fill="#ffff00"/>
<rect x="523" y="379" width="5" height="40" fill="#80c040"/>
<rect x="529" y="382" width="4" height="37" fill="#80c040"/>
<rect x="535" y="382" width="4" height="37" fill="#80c040"/>
<rect x="541" y="380" width="4" height="39" fill="#80c040"/>
<rect x="546" y="380" width="5" height="39" fill="#80c040"/>
<rect x="552" y="382" width="5" height="37" fill="#80c040"/>
<rect x="558" y="377" width="4" height="42" fill="#ffff00"/>
<rect x="564" y="377" width="4" height="42" fill="#ffff00"/>
<rect x="570" y="378" width="4" height="41" fill="#ffff00"/>
<rect x="575" y="379" width="5" height="40" fill="#ffff00"/>
<rect x="581" y="382" width="5" height="37" fill="#80c040"/>
<rect x="587" y="377" width="4" height="42" fill="#ffff00"/>
<rect x="593" y="379" width="4" height="40" fill="#ffff00"/>
<rect x="598" y="382" width="5" height="37" fill="#80c040"/>
<rect x="604" y="382" width="2" height="37" fill="#80c040"/>
</g>
<g fill="#000" shape-rendering="crispEdges">
<rect x="79" y="57" width="528" height="1"/>
<rect x="79" y="419" width="528" height="1"/>
<rect x="79" y="57" width="1" height="363"/>
<rect x="606" y="57" width="1" height="363"/>
<rect x="536" y="66" width="49" height="9"/>
</g>
<text id="title" y="33" style="font-size:17px"><tspan x="169.50" textLength="37.25" lengthAdjust="spacingAndGlyphs">Total</tspan><tspan x="213.25" textLength="24.75" lengthAdjust="spacingAndGlyphs">I95</tspan><tspan x="243.25" textLength="47.25" lengthAdjust="spacingAndGlyphs">zenith</tspan><tspan x="298.25" textLength="47.25" lengthAdjust="spacingAndGlyphs">[ppm]</tspan><tspan x="352.00" textLength="19.10" lengthAdjust="spacingAndGlyphs">on</tspan><tspan x="377.60" textLength="31.00" lengthAdjust="spacingAndGlyphs">NET</tspan><tspan x="413.25" textLength="17.25" lengthAdjust="spacingAndGlyphs">V,</tspan><tspan x="435.10" textLength="76.00" lengthAdjust="spacingAndGlyphs">DoY=030</tspan></text>
<text id="xlab" y="471" style="font-size:17px"><tspan x="187.00" textLength="38.50" lengthAdjust="spacingAndGlyphs">Time</tspan><tspan x="231.40" textLength="16.00" lengthAdjust="spacingAndGlyphs">of</tspan><tspan x="252.60" textLength="28.50" lengthAdjust="spacingAndGlyphs">day</tspan><tspan x="287.60" textLength="30.40" lengthAdjust="spacingAndGlyphs">UTC</tspan><tspan x="325.10" textLength="86.65" lengthAdjust="spacingAndGlyphs">(15-minute</tspan><tspan x="419.50" textLength="74.75" lengthAdjust="spacingAndGlyphs">intervals)</tspan></text>
<text id="ylab" transform="translate(18,278.5) rotate(-90)" x="0" y="0" textLength="79" lengthAdjust="spacingAndGlyphs" style="font-size:17px">I95 [ppm]</text>
<text id="key" x="451.5" y="75" textLength="71" lengthAdjust="spacingAndGlyphs" style="font-size:17px">ion net V</text>
<g id="xt"><text x="78.5" y="443" text-anchor="middle" textLength="19.8" lengthAdjust="spacingAndGlyphs">00</text><text x="124.8" y="443" text-anchor="middle" textLength="19.8" lengthAdjust="spacingAndGlyphs">02</text><text x="171.2" y="443" text-anchor="middle" textLength="19.8" lengthAdjust="spacingAndGlyphs">04</text><text x="217.5" y="443" text-anchor="middle" textLength="19.8" lengthAdjust="spacingAndGlyphs">06</text><text x="263.8" y="443" text-anchor="middle" textLength="19.8" lengthAdjust="spacingAndGlyphs">08</text><text x="310.2" y="443" text-anchor="middle" textLength="19.8" lengthAdjust="spacingAndGlyphs">10</text><text x="356.5" y="443" text-anchor="middle" textLength="19.8" lengthAdjust="spacingAndGlyphs">12</text><text x="402.8" y="443" text-anchor="middle" textLength="19.8" lengthAdjust="spacingAndGlyphs">14</text><text x="449.2" y="443" text-anchor="middle" textLength="19.8" lengthAdjust="spacingAndGlyphs">16</text><text x="495.5" y="443" text-anchor="middle" textLength="19.8" lengthAdjust="spacingAndGlyphs">18</text><text x="541.8" y="443" text-anchor="middle" textLength="19.8" lengthAdjust="spacingAndGlyphs">20</text><text x="588.2" y="443" text-anchor="middle" textLength="19.8" lengthAdjust="spacingAndGlyphs">22</text></g>
<g id="yt"><text x="66" y="384" text-anchor="end" textLength="10.2" lengthAdjust="spacingAndGlyphs">2</text><text x="66" y="343" text-anchor="end" textLength="10.2" lengthAdjust="spacingAndGlyphs">4</text><text x="66" y="303" text-anchor="end" textLength="10.2" lengthAdjust="spacingAndGlyphs">6</text><text x="66" y="263" text-anchor="end" textLength="10.2" lengthAdjust="spacingAndGlyphs">8</text><text x="65.5" y="222" text-anchor="end" textLength="20.0" lengthAdjust="spacingAndGlyphs">10</text><text x="65.5" y="182" text-anchor="end" textLength="20.0" lengthAdjust="spacingAndGlyphs">12</text><text x="65.5" y="141" text-anchor="end" textLength="20.0" lengthAdjust="spacingAndGlyphs">14</text><text x="65.5" y="101" text-anchor="end" textLength="20.0" lengthAdjust="spacingAndGlyphs">16</text><text x="66" y="424" text-anchor="end" textLength="10.2" lengthAdjust="spacingAndGlyphs">0</text></g>
</svg>
</body></html>
